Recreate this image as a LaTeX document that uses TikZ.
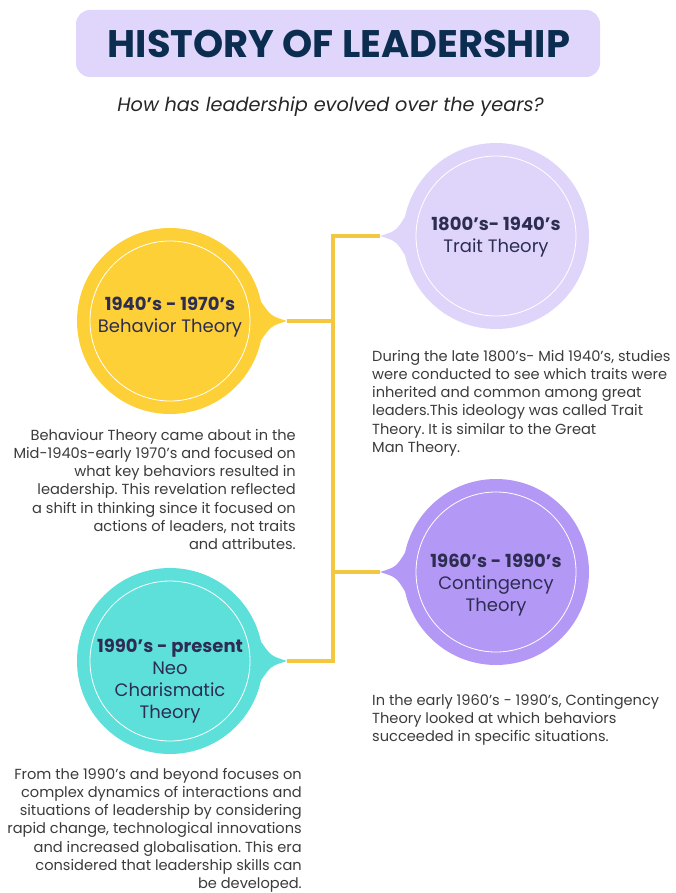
\documentclass[tikz,border=0pt]{standalone}
\usepackage{fontspec}
\usetikzlibrary{calc}
\setmainfont{Poppins}
\frenchspacing
\definecolor{titlebox}{HTML}{E0D6FB}
\definecolor{traitc}{HTML}{DFD5FA}
\definecolor{behavc}{HTML}{FDD038}
\definecolor{contc}{HTML}{B498F6}
\definecolor{neoc}{HTML}{5EE0DA}
\definecolor{linec}{HTML}{F3C73F}
\definecolor{navy}{HTML}{2D2D52}
\definecolor{titlec}{HTML}{0B2D4F}
\definecolor{parac}{HTML}{3B3B3B}
\begin{document}
\begin{tikzpicture}[x=1pt,y=-1pt,
  era/.style={circle,minimum size=186pt,inner sep=0pt,outer sep=0pt},
  ring/.style={draw=white,line width=0.8pt},
  conn/.style={draw=linec,line width=4pt},
  lbl/.style={align=center,text=navy,font=\fontsize{18}{22}\selectfont,inner sep=0pt},
  para/.style={text=parac,font=\fontsize{14.6}{18.2}\selectfont,inner sep=0pt}
]
\useasboundingbox (0,0) rectangle (676,893);
% title
\node[fill=titlebox,rounded corners=14pt,minimum width=524pt,minimum height=67pt,inner sep=0pt] (tbox) at (338,43.5) {};
\node[text=titlec,font=\fontsize{38.4}{44}\selectfont\bfseries,inner sep=0pt] (title) at (339,44) {HISTORY OF LEADERSHIP};
\node[text=black!85,font=\fontsize{19.3}{22}\selectfont\itshape,inner sep=0pt] (sub) at (330.5,107) {How has leadership evolved over the years?};

% circles
\node[era,fill=traitc] (trait) at (496,236) {};
\node[era,fill=behavc] (behav) at (170,321) {};
\node[era,fill=contc] (cont) at (496,572) {};
\node[era,fill=neoc] (neo) at (170,661) {};

% pointer tips
\coordinate (tipT) at (380,236);
\coordinate (tipB) at (287,321);
\coordinate (tipC) at (380,572);
\coordinate (tipN) at (287,661);
\coordinate (jT) at (333,236);
\coordinate (jB) at (333,321);
\coordinate (jC) at (333,572);
\coordinate (jN) at (333,661);

% connectors
\draw[conn] (tipT) -- (jT) -- (jN) -- (tipN);
\draw[conn] (tipB) -- (jB);
\draw[conn] (tipC) -- (jC);

% pointers
\fill[traitc] (trait.168) .. controls ($(tipT)+(16,-5)$) .. (tipT) .. controls ($(tipT)+(16,5)$) .. (trait.192) -- (trait.center) -- cycle;
\fill[contc] (cont.168) .. controls ($(tipC)+(16,-5)$) .. (tipC) .. controls ($(tipC)+(16,5)$) .. (cont.192) -- (cont.center) -- cycle;
\fill[behavc] (behav.12) .. controls ($(tipB)+(-16,-5)$) .. (tipB) .. controls ($(tipB)+(-16,5)$) .. (behav.-12) -- (behav.center) -- cycle;
\fill[neoc] (neo.12) .. controls ($(tipN)+(-16,-5)$) .. (tipN) .. controls ($(tipN)+(-16,5)$) .. (neo.-12) -- (neo.center) -- cycle;

% inner rings
\draw[ring] (trait.center) circle[radius=80pt];
\draw[ring] (behav.center) circle[radius=80pt];
\draw[ring] (cont.center) circle[radius=80pt];
\draw[ring] (neo.center) circle[radius=80pt];

% circle labels
\node[lbl] (traitL) at (496,237) {\textbf{1800’s- 1940’s}\\Trait Theory};
\node[lbl] (behavL) at (170,317) {\textbf{1940’s - 1970’s}\\Behavior Theory};
\node[lbl] (contL) at (496,585) {\textbf{1960’s - 1990’s}\\Contingency\\Theory};
\node[lbl] (neoL) at (170,681) {\textbf{1990’s - present}\\Neo\\Charismatic\\Theory};

% paragraphs
\node[para,align=left,anchor=north west] (traitP) at (372,350) {During the late 1800’s- Mid 1940’s, studies\\were conducted to see which traits were\\inherited and common among great\\leaders.This ideology was called Trait\\Theory. It is similar to the Great\\Man Theory.};
\node[para,align=right,anchor=north east] (behavP) at (296,429) {Behaviour Theory came about in the\\Mid-1940s-early 1970’s and focused on\\what key behaviors resulted in\\leadership. This revelation reflected\\a shift in thinking since it focused on\\actions of leaders, not traits\\and attributes.};
\node[para,align=left,anchor=north west] (contP) at (372,694) {In the early 1960’s - 1990’s, Contingency\\Theory looked at which behaviors\\succeeded in specific situations.};
\node[para,align=right,anchor=north east] (neoP) at (302,768) {From the 1990’s and beyond focuses on\\complex dynamics of interactions and\\situations of leadership by considering\\rapid change, technological innovations\\and increased globalisation. This era\\considered that leadership skills can\\be developed.};
\end{tikzpicture}
\end{document}
